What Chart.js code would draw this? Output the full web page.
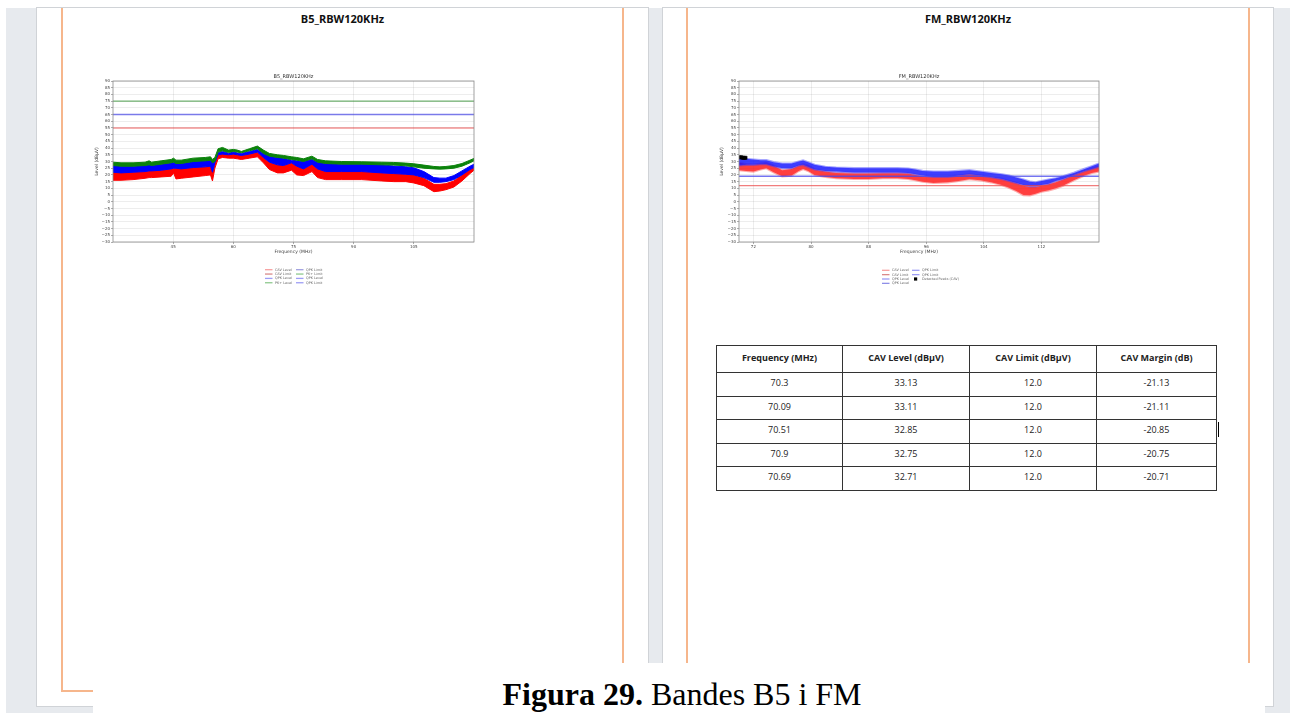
<!DOCTYPE html>
<html>
<head>
<meta charset="utf-8">
<script src="https://cdn.jsdelivr.net/npm/chart.js@4.4.1/dist/chart.umd.min.js"></script>
<style>
html, body { margin: 0; padding: 0; background: #fff; width: 1297px; height: 713px; overflow: hidden; position: relative; }
.abs { position: absolute; }
#grey { left: 6px; top: 8px; width: 1284px; height: 705px; background: #e7eaee; }
.page { top: 8px; height: 698px; background: #fff; box-shadow: 0 0 0 1px #d0d3d7; }
.ol { background: #f6b68c; }
.head { top: 11px; height: 15px; line-height: 15px; font: bold 11px "Open Sans", sans-serif; color: #111; text-align: center; }
canvas { position: absolute; }
#tbl { left: 716px; top: 345px; border-collapse: collapse; table-layout: fixed; font: 9px "Open Sans", sans-serif; color: #222; }
#tbl td { border: 1px solid #333; text-align: center; vertical-align: top; padding: 0; box-sizing: border-box; line-height: 12px; }
#tbl tr.h td { height: 27px; padding-top: 6px; font-weight: bold; }
#tbl tr.r td { height: 23.6px; padding-top: 4px; }
#capbox { left: 93px; top: 663px; width: 1172px; height: 50px; background: #fff; }
#cap { left: 93px; top: 678px; width: 1178px; text-align: center; font: 32px "Liberation Serif", "Times New Roman", serif; line-height: 32px; color: #000; }
</style>
</head>
<body>
<div id="grey" class="abs"></div>
<div class="abs page" style="left:37px;width:611px"></div>
<div class="abs page" style="left:663px;width:610px"></div>

<div class="abs ol" style="left:61px;top:8px;width:2px;height:684px"></div>
<div class="abs ol" style="left:622px;top:8px;width:2px;height:684px"></div>
<div class="abs ol" style="left:61px;top:690px;width:563px;height:2px"></div>
<div class="abs ol" style="left:686px;top:8px;width:2px;height:684px"></div>
<div class="abs ol" style="left:1248px;top:8px;width:2px;height:684px"></div>
<div class="abs ol" style="left:686px;top:690px;width:564px;height:2px"></div>

<div class="abs head" style="left:61px;width:563px">B5_RBW120KHz</div>
<div class="abs head" style="left:686px;width:564px">FM_RBW120KHz</div>

<canvas id="b5" width="400" height="224" style="left:90px;top:66px;width:400px;height:224px"></canvas>
<canvas id="fm" width="400" height="224" style="left:715px;top:66px;width:400px;height:224px"></canvas>

<table id="tbl" class="abs"></table>
<div class="abs" style="left:1218px;top:422px;width:1px;height:15px;background:#000"></div>

<div id="capbox" class="abs"></div>
<div id="cap" class="abs"><b>Figura 29.</b> Bandes B5 i FM</div>

<script>
// ---- B5 band (30-120 MHz) ----
const B5_FREQ = [30, 32, 35, 38, 39, 39.6, 42, 44.5, 45.1, 45.7, 47, 50, 53, 54.3, 54.8, 55.4, 56.2, 57.3, 58.8, 60, 61, 62, 64, 66, 67.5, 69, 71, 72.5, 74.5, 75.8, 77.5, 79.6, 81, 83, 87, 92, 97, 100, 103, 105, 107.5, 110, 111.5, 113, 115, 117, 119, 120];
const B5_PK_HI = [29.5, 29, 29, 29.5, 30.5, 29.5, 30.5, 31.5, 32.5, 31, 31, 32.5, 33, 33.5, 31.5, 33, 39.5, 40.5, 38.5, 39, 38.5, 37.5, 39.5, 41.5, 38.5, 36, 35, 34.5, 33.5, 33, 32, 34, 31.5, 30.5, 30, 29.8, 29.5, 29.3, 28.8, 28.3, 27.3, 26.3, 26, 26.3, 27, 28.5, 31, 32.3];
const B5_PK_LO = [27, 26.5, 26.5, 27, 27.5, 27, 28, 29, 29.5, 28.5, 28.5, 30, 30.5, 31, 29, 30, 37, 38, 36.8, 37.5, 37, 36.5, 38, 39.5, 36, 34, 33, 32.5, 31.5, 31, 30, 32, 29.5, 28.5, 28, 28, 27.5, 27.3, 26.8, 26, 25, 24.5, 24.3, 24.5, 25, 26.5, 29, 30.5];
const B5_QP_HI = [27, 26.5, 26.5, 27, 27.5, 27, 28, 29, 29.5, 28.5, 28.5, 30, 30.5, 31, 29, 30, 36.5, 37.5, 36.2, 37, 36.4, 36, 37.4, 39, 36, 34, 33, 32.5, 31, 30.5, 30, 31.5, 29.5, 28.5, 28, 28, 27.5, 26.6, 26.1, 25.3, 22.5, 18, 17.6, 17.6, 19.5, 23, 26.5, 28];
const B5_QP_LO = [22, 21.5, 22, 22.5, 23, 23, 23.5, 24.5, 25, 25, 24.5, 25.5, 26, 26.5, 22, 29, 35, 35.5, 35, 35.5, 35, 34.5, 35.5, 37, 33, 29.5, 27.5, 27, 29, 26.5, 24.5, 28, 24.5, 22.5, 22.5, 22.5, 21.5, 21, 20.5, 20, 18, 14.5, 14.5, 15, 16.5, 20, 24, 25.5];
const B5_AV_HI = [22, 21.5, 22, 22.5, 23, 23, 23.5, 24.5, 25, 25, 24.5, 25.5, 26, 26.5, 22, 29, 35, 35.5, 35, 35.5, 35, 34.5, 35.5, 37, 33, 29.5, 27.5, 27, 29, 26.5, 24.5, 28, 24.5, 22.5, 22.5, 22.5, 21.5, 21, 20.5, 20, 17.5, 13, 13, 13.5, 15.5, 20, 24, 25.5];
const B5_AV_LO = [16, 16, 16.5, 17.5, 18, 18, 18.5, 19, 21.5, 17, 17.5, 18.5, 19.5, 20, 15.5, 25, 32, 33, 32.5, 32.5, 32, 31.5, 32.5, 33.5, 29, 24, 21.5, 21.5, 23.5, 20, 19.5, 22.5, 18, 16.5, 16.5, 16.5, 15.5, 15, 15, 14, 12, 7.5, 8, 9, 11, 15.5, 21, 23.5];
const B5_LIMITS = [75, 65, 55];          // PK+, QPK, CAV
const B5_XTICKS = [45, 60, 75, 90, 105];
const B5_LEGEND = ['CAV Level', 'CAV Limit', 'QPK Level', 'PK+ Level', 'QPK Limit', 'PK+ Limit', 'QPK Level', 'QPK Limit'];

// ---- FM band (70-120 MHz) ----
const FM_FREQ = [70, 71, 72, 73, 73.8, 74.8, 76, 77.3, 78.3, 78.9, 79.6, 80.5, 82, 83.5, 86, 88, 90, 92, 93.5, 94.5, 95.5, 97, 99, 100.5, 102, 103.5, 105, 106.5, 107.5, 108.5, 109.5, 110.4, 111.2, 112, 113, 114, 115, 116.5, 118, 119, 120];
const FM_QP_HI = [33, 32, 31.5, 31, 31, 29.5, 28.5, 28.5, 30, 30.8, 29.5, 27.5, 26, 25.5, 25, 25, 25, 25, 24.8, 24, 23, 22.5, 22.5, 23, 23.5, 22.5, 21.5, 20.5, 19.5, 18, 16.5, 15, 14.5, 15.5, 16.5, 17.5, 19, 21.5, 24.5, 26.5, 28.5];
const FM_QP_LO = [27, 27.5, 27.5, 28, 28, 26.5, 25, 25, 27, 27.5, 26, 24, 23, 22.5, 21.8, 21.8, 21.8, 21.8, 21.5, 20.5, 19.5, 18.5, 18.5, 19.5, 20.5, 19.5, 18.3, 17, 15.5, 14, 12.5, 11.5, 11.5, 12.5, 13.5, 15.5, 17, 20, 23, 24.5, 26];
const FM_AV_HI = [29, 28, 27.5, 28.5, 29, 27, 23.5, 24.5, 27, 28, 27, 24, 22.5, 21.5, 21, 21, 21.3, 21.3, 21, 20, 18.8, 18.5, 18.8, 19.5, 20.5, 19.5, 18.3, 17, 15.5, 14, 12, 11, 11, 12, 13, 14.5, 16.5, 20, 23, 24.8, 26.5];
const FM_AV_LO = [23.5, 23, 22.5, 24, 25, 22, 19, 19.5, 23, 24.5, 23, 20, 18.5, 17.5, 17, 17, 17.5, 17.5, 17, 16, 15, 14, 14.5, 15.5, 16.8, 16, 14.5, 12.5, 10.5, 8, 5, 4.8, 6, 7.5, 8.5, 10, 12, 16, 19.5, 21.5, 22.5];
const FM_LIMITS = [19, 12];              // QPK, CAV
const FM_XTICKS = [72, 80, 88, 96, 104, 112];
const FM_LEGEND = ['CAV Level', 'CAV Limit', 'QPK Level', 'QPK Level', 'QPK Limit', 'QPK Limit', 'Detected Peaks (CAV)'];

const Y_TICKS = [-30, -25, -20, -15, -10, -5, 0, 5, 10, 15, 20, 25, 30, 35, 40, 45, 50, 55, 60, 65, 70, 75, 80, 85, 90];

// detected peaks table
const T_HEAD = ['Frequency (MHz)', 'CAV Level (dBµV)', 'CAV Limit (dBµV)', 'CAV Margin (dB)'];
const T_FREQ = ['70.3', '70.09', '70.51', '70.9', '70.69'];
const T_LEVEL = ['33.13', '33.11', '32.85', '32.75', '32.71'];
const T_LIMIT = ['12.0', '12.0', '12.0', '12.0', '12.0'];
const T_MARGIN = ['-21.13', '-21.11', '-20.85', '-20.75', '-20.71'];

Chart.defaults.font.family = '"DejaVu Sans", sans-serif';
Chart.defaults.color = '#444';

function pts(xs, ys) {
  return xs.map((x, i) => ({x: x, y: ys[i]}));
}

function hline(y, x0, x1, color) {
  return {data: [{x: x0, y: y}, {x: x1, y: y}], borderColor: color, borderWidth: 1.4, pointRadius: 0, fill: false};
}

// upper edge + lower edge filled between them
function band(xs, hi, lo, fillColor, edgeColor, edgeWidth) {
  return [
    {data: pts(xs, hi), borderColor: edgeColor, borderWidth: edgeWidth, pointRadius: 0, fill: false},
    {data: pts(xs, lo), borderColor: edgeColor, borderWidth: edgeWidth, pointRadius: 0, fill: '-1', backgroundColor: fillColor}
  ];
}

function decor(title, legend) {
  return {
    id: 'decor',
    afterDraw(chart) {
      const ctx = chart.ctx;
      const a = chart.chartArea;
      const cx = (a.left + a.right) / 2;
      ctx.save();
      ctx.strokeStyle = '#8a8a8a';
      ctx.lineWidth = 0.8;
      ctx.strokeRect(a.left, a.top, a.right - a.left, a.bottom - a.top);

      ctx.fillStyle = '#333';
      ctx.font = '5px "DejaVu Sans"';
      ctx.textAlign = 'center';
      ctx.fillText(title, cx, a.top - 3);

      ctx.font = '3.4px "DejaVu Sans"';
      ctx.textAlign = 'left';
      ctx.textBaseline = 'middle';
      legend.items.forEach((it, i) => {
        const col = i < legend.perCol ? 0 : 1;
        const row = i < legend.perCol ? i : i - legend.perCol;
        const x = cx + legend.cols[col];
        const y = a.bottom + legend.top + row * 4.35;
        if (it.marker) {
          ctx.fillStyle = '#000';
          ctx.fillRect(x + 2, y - 1.6, 3.2, 3.2);
        } else {
          ctx.strokeStyle = it.color;
          ctx.lineWidth = 1.3;
          ctx.beginPath();
          ctx.moveTo(x, y);
          ctx.lineTo(x + 7.5, y);
          ctx.stroke();
        }
        ctx.fillStyle = '#666';
        ctx.fillText(it.label, x + 10, y);
      });
      ctx.restore();
    }
  };
}

function scales(xmin, xmax, xticks, yWidth) {
  const grid = {color: 'rgba(0,0,0,0.07)', tickLength: 2, tickColor: '#777', tickWidth: 0.6};
  return {
    x: {
      type: 'linear', min: xmin, max: xmax,
      afterBuildTicks: s => { s.ticks = xticks.map(v => ({value: v})); },
      afterFit: s => { s.height = 19; },
      ticks: {font: {size: 4}, color: '#444', padding: 1, maxRotation: 0, autoSkip: false},
      grid: grid,
      border: {display: false},
      title: {display: true, text: 'Frequency (MHz)', font: {size: 4.5}, color: '#444', padding: {top: 0, bottom: 6}}
    },
    y: {
      type: 'linear', min: -30, max: 90,
      afterBuildTicks: s => { s.ticks = Y_TICKS.map(v => ({value: v})); },
      afterFit: s => { s.width = yWidth; },
      ticks: {font: {size: 4}, color: '#444', padding: 1, autoSkip: false,
        callback: v => v < 0 ? '\u2212' + Math.abs(v) : String(v)},
      grid: grid,
      border: {display: false},
      title: {display: true, text: 'Level (dB\u00b5V)', font: {size: 4.5}, color: '#444', padding: {top: 4.5, bottom: 0}}
    }
  };
}

function baseOptions(xmin, xmax, xticks, yWidth) {
  return {
    responsive: false,
    animation: false,
    devicePixelRatio: 1,
    layout: {padding: {left: 0, right: 16, top: 15, bottom: 29}},
    elements: {line: {tension: 0}},
    plugins: {legend: {display: false}, tooltip: {enabled: false}},
    scales: scales(xmin, xmax, xticks, yWidth)
  };
}

// B5 chart
const b5Colors = ['#f7a0a0', '#d98a8a', '#9d9df5', '#8fc98f', '#a0a0e0', '#8fc98f', '#9d9df5', '#9d9df5'];
new Chart(document.getElementById('b5'), {
  type: 'line',
  data: {
    datasets: [
      hline(B5_LIMITS[0], 30, 120, 'rgba(40,140,40,0.65)'),
      hline(B5_LIMITS[1], 30, 120, 'rgba(60,60,230,0.65)'),
      hline(B5_LIMITS[2], 30, 120, 'rgba(235,60,60,0.55)'),
      ...band(B5_FREQ, B5_PK_HI, B5_PK_LO, '#0b820b', '#0b820b', 1),
      ...band(B5_FREQ, B5_QP_HI, B5_QP_LO, '#0000ff', '#0000ff', 1),
      ...band(B5_FREQ, B5_AV_HI, B5_AV_LO, '#ff0000', '#ff0000', 1)
    ]
  },
  options: baseOptions(30, 120, B5_XTICKS, 23),
  plugins: [decor('B5_RBW120KHz', {
    perCol: 4, cols: [-28.5, 2.5], top: 27.7,
    items: B5_LEGEND.map((l, i) => ({label: l, color: b5Colors[i]}))
  })]
});

// FM chart
const fmColors = ['#f7a0a0', '#d98a8a', '#9d9df5', '#8f8fe8', '#9d9df5', '#9d9df5', '#000'];
new Chart(document.getElementById('fm'), {
  type: 'line',
  data: {
    datasets: [
      {data: pts(T_FREQ.map(Number), T_LEVEL.map(Number)), showLine: false, pointStyle: 'rect',
        pointRadius: 2.3, backgroundColor: '#000', borderColor: '#000', borderWidth: 0.5},
      hline(FM_LIMITS[0], 70, 120, 'rgba(70,70,235,0.75)'),
      hline(FM_LIMITS[1], 70, 120, 'rgba(235,70,70,0.7)'),
      ...band(FM_FREQ, FM_QP_HI, FM_QP_LO, 'rgba(20,20,255,0.82)', 'rgba(60,60,255,0.45)', 2.2),
      ...band(FM_FREQ, FM_AV_HI, FM_AV_LO, 'rgba(255,20,20,0.82)', 'rgba(255,70,70,0.45)', 2.2)
    ]
  },
  options: baseOptions(70, 120, FM_XTICKS, 24),
  plugins: [decor('FM_RBW120KHz', {
    perCol: 4, cols: [-37, -7], top: 28.3,
    items: FM_LEGEND.map((l, i) => ({label: l, color: fmColors[i], marker: i === 6}))
  })]
});

// table
const tbl = document.getElementById('tbl');
const widths = [126, 127, 127, 120];
let html = '<colgroup>' + widths.map(w => '<col style="width:' + w + 'px">').join('') + '</colgroup>';
html += '<tr class="h">' + T_HEAD.map(h => '<td>' + h + '</td>').join('') + '</tr>';
T_FREQ.forEach((f, i) => {
  html += '<tr class="r"><td>' + f + '</td><td>' + T_LEVEL[i] + '</td><td>' + T_LIMIT[i] + '</td><td>' + T_MARGIN[i] + '</td></tr>';
});
tbl.innerHTML = html;
tbl.style.width = widths.reduce((s, w) => s + w, 0) + 'px';
</script>
</body>
</html>
